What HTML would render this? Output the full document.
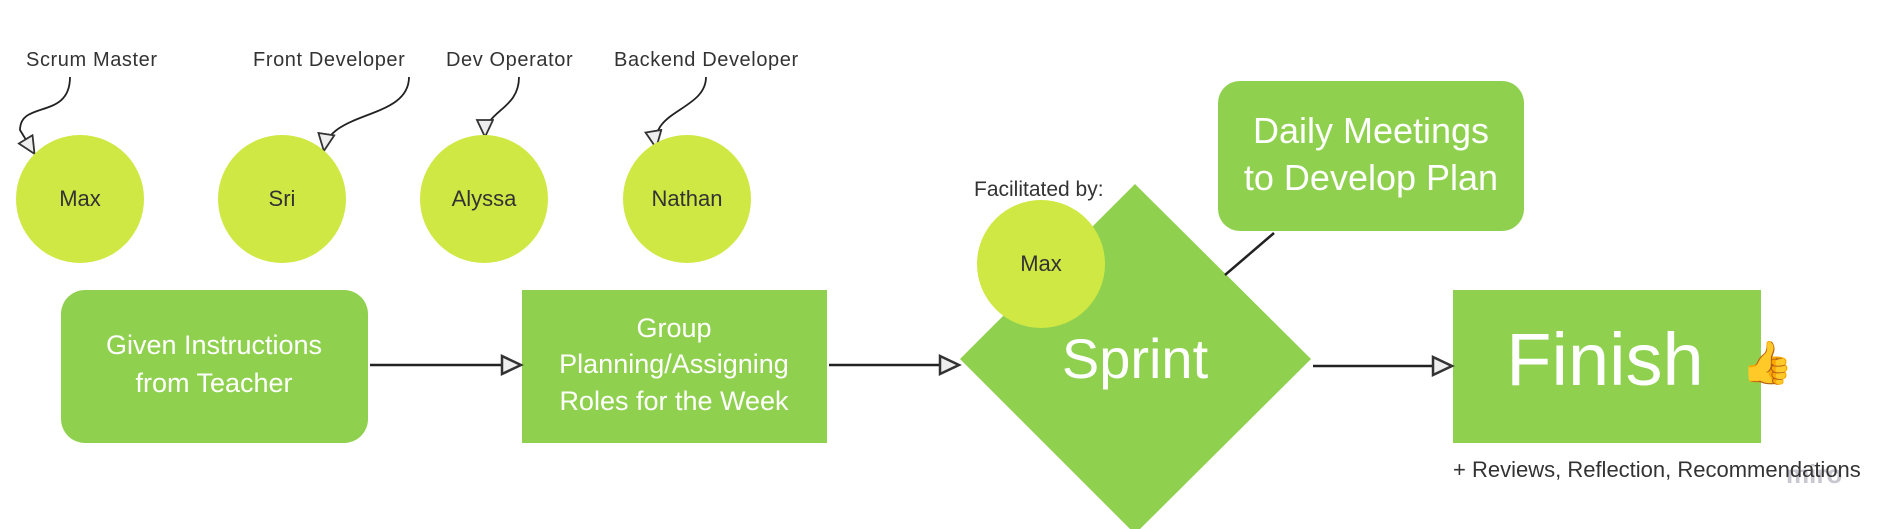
<!DOCTYPE html>
<html><head><meta charset="utf-8"><style>
html,body{margin:0;padding:0;background:#fff;}
body{width:1890px;height:529px;overflow:hidden;position:relative;font-family:"Liberation Sans",sans-serif;}
svg{position:absolute;left:0;top:0;}
</style></head><body>
<svg width="1890" height="529" viewBox="0 0 1890 529" xmlns="http://www.w3.org/2000/svg">
<defs>
<marker id="a" markerWidth="20" markerHeight="20" refX="17" refY="9" orient="auto" markerUnits="userSpaceOnUse">
<path d="M1,1 L18,9 L1,17 Z" fill="#eee" stroke="#333" stroke-width="1.8"/></marker>
<marker id="b" markerWidth="24" markerHeight="24" refX="20" refY="11" orient="auto" markerUnits="userSpaceOnUse">
<path d="M2,2 L21,11 L2,20 Z" fill="#eee" stroke="#333" stroke-width="2.5"/></marker>
</defs>
<g font-size="20" fill="#333" font-family="Liberation Sans, sans-serif" letter-spacing="0.6">
<text x="26" y="66">Scrum Master</text>
<text x="253" y="66">Front Developer</text>
<text x="446" y="66">Dev Operator</text>
<text x="614" y="66">Backend Developer</text>
</g>
<g fill="none" stroke="#222" stroke-width="1.8">
<path d="M70,77 C70,120 20,100 20,130 L34,153" marker-end="url(#a)"/>
<path d="M409,77 C409,120 330,110 324,150" marker-end="url(#a)"/>
<path d="M519,77 C519,110 485,110 485,136" marker-end="url(#a)"/>
<path d="M706,77 C706,110 650,110 656,147" marker-end="url(#a)"/>
</g>
<g fill="#cfe843">
<circle cx="80" cy="199" r="64"/><circle cx="282" cy="199" r="64"/>
<circle cx="484" cy="199" r="64"/><circle cx="687" cy="199" r="64"/>
</g>
<g font-size="22" fill="#333" text-anchor="middle">
<text x="80" y="206">Max</text><text x="282" y="206">Sri</text>
<text x="484" y="206">Alyssa</text><text x="687" y="206">Nathan</text>
</g>
<rect x="61" y="290" width="307" height="153" rx="24" fill="#8fd14f"/>
<rect x="522" y="290" width="305" height="153" fill="#8fd14f"/>
<polygon points="1135,184 1311,359 1135,534 960,359" fill="#8fd14f"/>
<rect x="1218" y="81" width="306" height="150" rx="22" fill="#8fd14f"/>
<rect x="1453" y="290" width="308" height="153" fill="#8fd14f"/>
<line x1="1225" y1="275" x2="1274" y2="233" stroke="#222" stroke-width="2.5"/>
<g stroke="#222" stroke-width="2.5">
<line x1="370" y1="365" x2="520" y2="365" marker-end="url(#b)"/>
<line x1="829" y1="365" x2="958" y2="365" marker-end="url(#b)"/>
<line x1="1313" y1="366" x2="1451" y2="366" marker-end="url(#b)"/>
</g>
<circle cx="1041" cy="264" r="64" fill="#cfe843"/>
<text x="1041" y="271" font-size="22" fill="#333" text-anchor="middle">Max</text>
<text x="974" y="196" font-size="21" fill="#333">Facilitated by:</text>
<g fill="#fff" text-anchor="middle">
<text x="214" y="354" font-size="27">Given Instructions</text>
<text x="214" y="392" font-size="27">from Teacher</text>
<text x="674" y="337" font-size="27">Group</text>
<text x="674" y="373" font-size="27">Planning/Assigning</text>
<text x="674" y="410" font-size="27">Roles for the Week</text>
<text x="1135" y="378" font-size="56">Sprint</text>
<text x="1371" y="143" font-size="36">Daily Meetings</text>
<text x="1371" y="190" font-size="36">to Develop Plan</text>
<text x="1605" y="385" font-size="74">Finish</text>
</g>
<text x="1741" y="377" font-size="42">👍</text>
<text x="1786" y="483" font-size="26" fill="#c8c8d0" font-weight="bold">miro</text>
<text x="1453" y="477" font-size="22" fill="#333">+ Reviews, Reflection, Recommendations</text>
</svg>
</body></html>
